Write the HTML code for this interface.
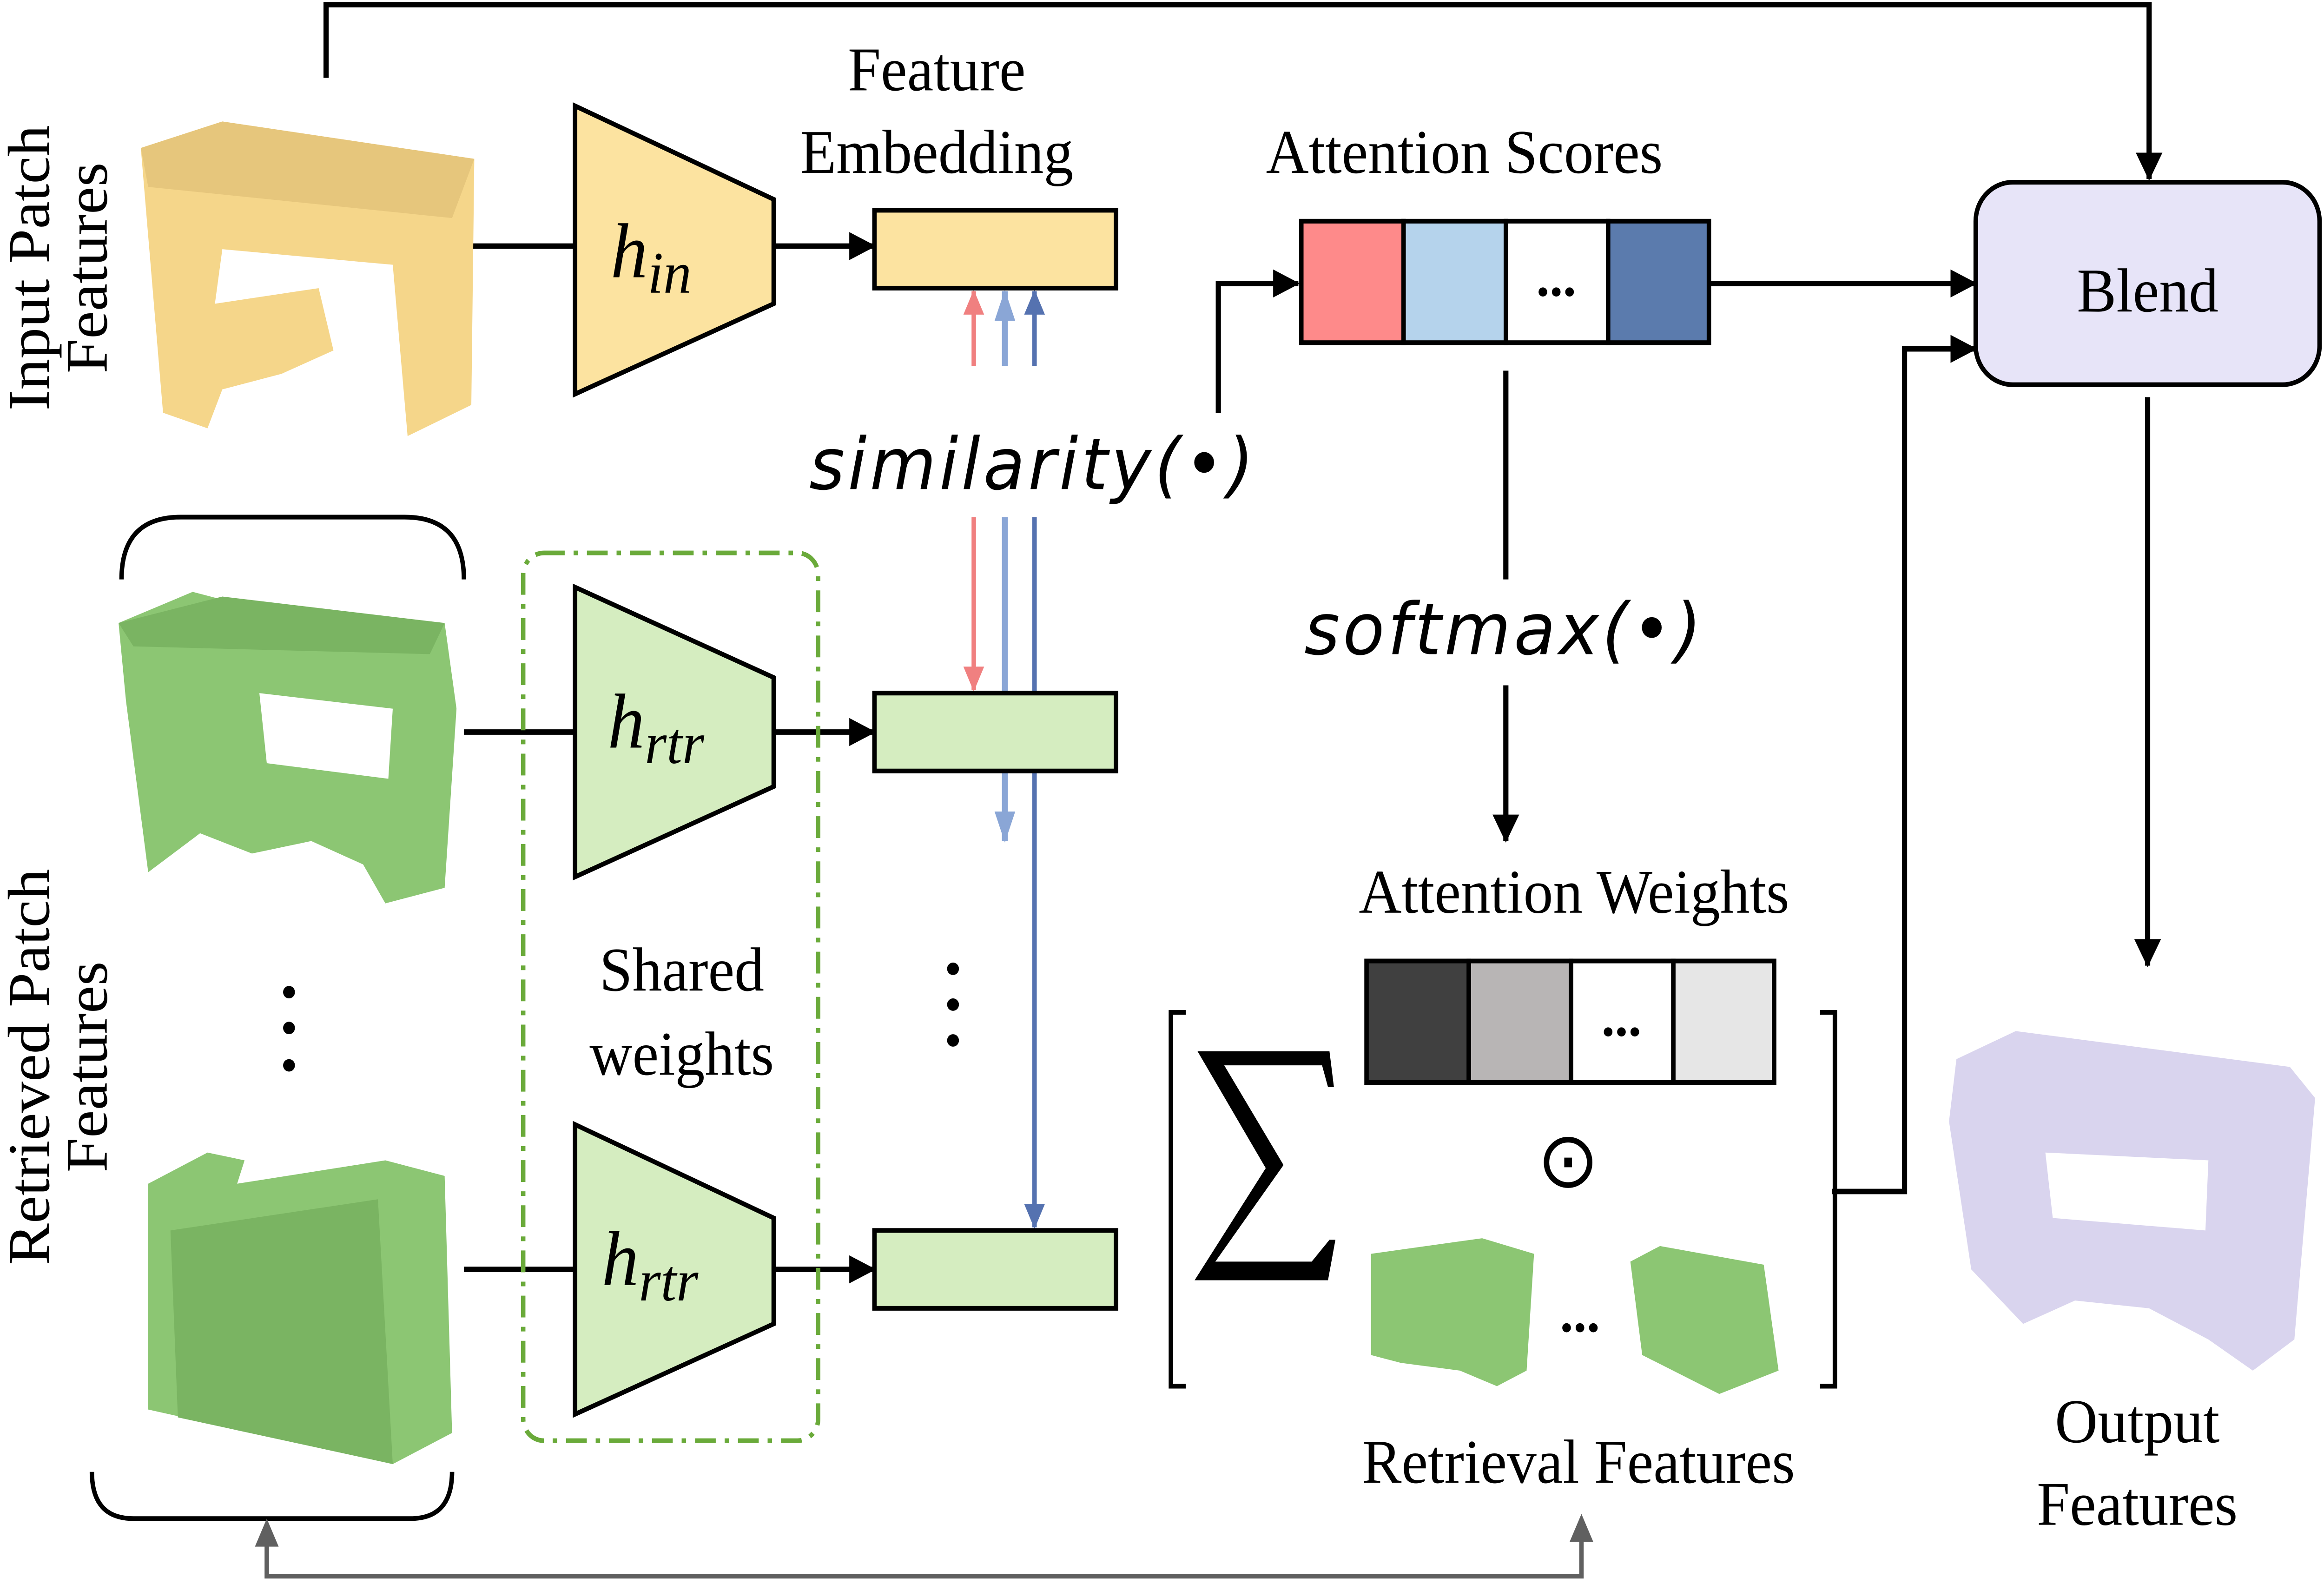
<!DOCTYPE html>
<html><head><meta charset="utf-8"><style>html,body{margin:0;padding:0;background:#fff;overflow:hidden}svg{display:block;position:fixed;left:0;top:0;width:100vw;height:100vh}</style></head><body>
<svg viewBox="0 0 1568 1017" preserveAspectRatio="none" xmlns="http://www.w3.org/2000/svg" font-family="'Liberation Serif',serif">
<defs>
<marker id="ar" markerWidth="16" markerHeight="18" refX="15" refY="7" orient="auto" markerUnits="userSpaceOnUse"><path d="M0,0L16,7L0,14z" fill="#f08080"/></marker>
<marker id="alb" markerWidth="20" markerHeight="18" refX="19" refY="7" orient="auto" markerUnits="userSpaceOnUse"><path d="M0,0L20,7L0,14z" fill="#8aa6d6"/></marker>
<marker id="adb" markerWidth="16" markerHeight="18" refX="15" refY="7" orient="auto" markerUnits="userSpaceOnUse"><path d="M0,0L16,7L0,14z" fill="#5572b0"/></marker>
<marker id="ab" markerWidth="18" markerHeight="24" refX="17" refY="9" orient="auto" markerUnits="userSpaceOnUse"><path d="M0,0L18,9L0,18z" fill="#000"/></marker>
</defs>
<g stroke="#000" stroke-width="3.5" fill="none">
<path d="M220,50V3H1450V115" marker-end="url(#ab)"/>
<path d="M318,158H388"/><path d="M522,158H590" marker-end="url(#ab)"/>
<path d="M313,470H388"/><path d="M522,470H590" marker-end="url(#ab)"/>
<path d="M313,815H388"/><path d="M522,815H590" marker-end="url(#ab)"/>
<path d="M822,265V182H876" marker-end="url(#ab)"/>
<path d="M1153,182H1333" marker-end="url(#ab)"/>
<path d="M1236,765H1285V224H1333" marker-end="url(#ab)"/>
<path d="M1449,255V620" marker-end="url(#ab)"/>
<path d="M1016,238V372"/><path d="M1016,440V540" marker-end="url(#ab)"/>
</g>
<g stroke-width="3" fill="none">
<path d="M657,235V187" stroke="#f08080" marker-end="url(#ar)"/>
<path d="M657,332V443" stroke="#f08080" marker-end="url(#ar)"/>
<path d="M678,235V187" stroke="#8aa6d6" stroke-width="4" marker-end="url(#alb)"/>
<path d="M678,332V540" stroke="#8aa6d6" stroke-width="4" marker-end="url(#alb)"/>
<path d="M698,235V187" stroke="#5572b0" marker-end="url(#adb)"/>
<path d="M698,332V788" stroke="#5572b0" marker-end="url(#adb)"/>
</g>
<g stroke="#000" stroke-width="3">
<polygon points="388,68 522,128 522,195 388,253" fill="#fce3a0"/>
<polygon points="388,377 522,435 522,505 388,563" fill="#d5edc0"/>
<polygon points="388,722 522,782 522,850 388,908" fill="#d5edc0"/>
<rect x="590" y="135" width="163" height="50" fill="#fce3a0"/>
<rect x="590" y="445" width="163" height="50" fill="#d5edc0"/>
<rect x="590" y="790" width="163" height="50" fill="#d5edc0"/>
<rect x="878" y="142" width="69" height="78" fill="#fe8a8a"/>
<rect x="947" y="142" width="69" height="78" fill="#b5d3ec"/>
<rect x="1016" y="142" width="69" height="78" fill="#fff"/>
<rect x="1085" y="142" width="68" height="78" fill="#5b7bad"/>
<rect x="922" y="617" width="69" height="78" fill="#404040"/>
<rect x="991" y="617" width="69" height="78" fill="#b8b5b5"/>
<rect x="1060" y="617" width="69" height="78" fill="#fff"/>
<rect x="1129" y="617" width="68" height="78" fill="#e6e6e6"/>
<rect x="1333" y="117" width="232" height="130" rx="25" fill="#e7e4f8"/>
</g>
<rect x="353" y="355" width="199" height="570" rx="14" fill="none" stroke="#6aaa3a" stroke-width="3" stroke-dasharray="14,6,3,6"/>
<g stroke="#000" stroke-width="3" fill="none">
<path d="M82,372Q82,332 122,332H273Q313,332 313,372"/>
<path d="M62,945Q62,975 90,975H277Q305,975 305,945"/>
<path d="M800,650H790V890H800"/>
<path d="M1228,650H1238V890H1228"/>
</g>
<!-- sigma -->
<path d="M808,675H897L900,698H896L892,684H826L866,748L820,810H885L897,796H901L896,822H806L854,750Z" fill="#000"/>
<path d="M180,990V1012H1067V990" stroke="#606060" stroke-width="3" fill="none"/>
<path d="M172,993L180,975L188,993z M1059,990L1067,972L1075,990z" fill="#606060"/>
<g>
<path d="M95,95L150,78L320,102L318,260L275,280L265,170L150,160L145,195L215,185L225,225L190,240L150,250L140,275L110,265Z" fill="#f5d68a"/>
<path d="M95,95L150,78L320,102L305,140L100,120Z" fill="#e6c67c"/>
<path d="M130,380L150,385L300,400L308,455L300,570L260,580L245,555L210,540L170,548L135,535L100,560L85,450L80,400Z" fill="#8cc673"/>
<path d="M175,445L265,455L262,500L180,490Z" fill="#fff"/>
<path d="M80,400L150,383L300,400L290,420L90,415Z" fill="#7ab462"/>
<path d="M100,760L140,740L165,745L160,760L260,745L300,755L305,920L265,940L100,905Z" fill="#8cc673"/>
<path d="M115,790L255,770L265,940L120,910Z" fill="#7ab462"/>
<path d="M1320,680L1360,662L1545,685L1562,705L1548,860L1520,880L1490,860L1450,840L1400,835L1365,850L1330,815L1315,720Z" fill="#d9d4ee"/>
<path d="M1380,740L1490,745L1488,790L1385,782Z" fill="#fff"/>
<path d="M925,805L1000,795L1035,805L1030,880L1010,890L985,880L945,875L925,870Z" fill="#8cc673"/>
<path d="M1100,810L1120,800L1190,812L1200,880L1160,895L1108,870Z" fill="#8cc673"/>
</g>
<g font-size="40" text-anchor="middle" fill="#000">
<text x="632" y="58">Feature</text>
<text x="632" y="111">Embedding</text>
<text x="988" y="111">Attention Scores</text>
<text x="1449" y="200">Blend</text>
<text x="1062" y="586">Attention Weights</text>
<text x="460" y="636">Shared</text>
<text x="460" y="690">weights</text>
<text x="1065" y="952">Retrieval Features</text>
<text x="1442" y="926">Output</text>
<text x="1442" y="979">Features</text>
<text transform="translate(33,172) rotate(-90)">Input Patch</text>
<text transform="translate(72,172) rotate(-90)">Features</text>
<text transform="translate(33,685) rotate(-90)">Retrieved Patch</text>
<text transform="translate(72,685) rotate(-90)">Features</text>
<text x="1050" y="190" font-size="36" font-weight="bold">...</text>
<text x="1094" y="665" font-size="36" font-weight="bold">...</text>
<text x="1066" y="855" font-size="36" font-weight="bold">...</text>
<text x="1058" y="762" font-size="50">⊙</text>
</g>
<g font-style="italic" font-size="50" fill="#000">
<text x="412" y="178">h<tspan font-size="38" dy="10">in</tspan></text>
<text x="410" y="480">h<tspan font-size="38" dy="10">rtr</tspan></text>
<text x="406" y="825">h<tspan font-size="38" dy="10">rtr</tspan></text>
<text x="546" y="314" font-family="'DejaVu Sans',sans-serif" font-size="46" textLength="300">similarity(<tspan font-style="normal">•</tspan>)</text>
<text x="880" y="420" font-family="'DejaVu Sans',sans-serif" font-size="46" textLength="268">softmax(<tspan font-style="normal">•</tspan>)</text>
</g>
<g fill="#000">
<circle cx="195" cy="637" r="4"/><circle cx="195" cy="660" r="4"/><circle cx="195" cy="684" r="4"/>
<circle cx="643" cy="622" r="4"/><circle cx="643" cy="645" r="4"/><circle cx="643" cy="668" r="4"/>
</g>
</svg>
</body></html>
